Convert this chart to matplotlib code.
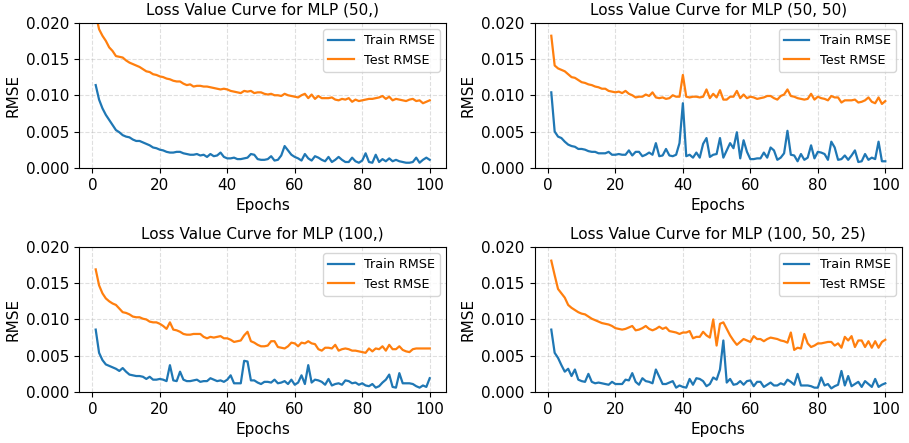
import numpy as np
import matplotlib
matplotlib.use("Agg")
import matplotlib.pyplot as plt

epochs = np.arange(1, 101)

# MLP (50,)
train_50 = [0.0114, 0.0094, 0.0082, 0.0073, 0.0066, 0.0059, 0.0052, 0.0049, 0.0045, 0.0043,
            0.0042, 0.0039, 0.0037, 0.0037, 0.0035, 0.0033, 0.0031, 0.0028, 0.0027, 0.0025,
            0.0024, 0.0022, 0.0021, 0.0021, 0.0022, 0.0022, 0.0020, 0.0019, 0.0018, 0.0018,
            0.0019, 0.0017, 0.0018, 0.0015, 0.0019, 0.0016, 0.0017, 0.0021, 0.0015, 0.0013,
            0.0013, 0.0014, 0.0012, 0.0012, 0.0013, 0.0014, 0.0019, 0.0018, 0.0012, 0.0011,
            0.0011, 0.0012, 0.0016, 0.0010, 0.0011, 0.0017, 0.0030, 0.0024, 0.0018, 0.0015,
            0.0013, 0.0010, 0.0019, 0.0013, 0.0010, 0.0016, 0.0014, 0.0011, 0.0009, 0.0015,
            0.0008, 0.0011, 0.0015, 0.0011, 0.0008, 0.0008, 0.0014, 0.0009, 0.0007, 0.0010,
            0.0020, 0.0008, 0.0007, 0.0018, 0.0008, 0.0012, 0.0009, 0.0013, 0.0009, 0.0011,
            0.0009, 0.0008, 0.0007, 0.0007, 0.0008, 0.0014, 0.0007, 0.0011, 0.0014, 0.0011]
test_50 = [0.0212, 0.0191, 0.0182, 0.0175, 0.0166, 0.0161, 0.0154, 0.0153, 0.0152, 0.0148,
           0.0145, 0.0143, 0.0141, 0.0139, 0.0136, 0.0133, 0.0132, 0.0129, 0.0128, 0.0126,
           0.0125, 0.0123, 0.0122, 0.0120, 0.0119, 0.0119, 0.0116, 0.0114, 0.0115, 0.0112,
           0.0113, 0.0113, 0.0112, 0.0112, 0.0111, 0.0110, 0.0109, 0.0108, 0.0109, 0.0108,
           0.0106, 0.0105, 0.0104, 0.0103, 0.0106, 0.0105, 0.0106, 0.0103, 0.0104, 0.0104,
           0.0102, 0.0101, 0.0102, 0.0100, 0.0100, 0.0099, 0.0102, 0.0100, 0.0099, 0.0098,
           0.0097, 0.0100, 0.0102, 0.0096, 0.0101, 0.0095, 0.0099, 0.0096, 0.0096, 0.0096,
           0.0097, 0.0094, 0.0093, 0.0095, 0.0094, 0.0096, 0.0091, 0.0094, 0.0092, 0.0093,
           0.0094, 0.0095, 0.0095, 0.0096, 0.0097, 0.0099, 0.0095, 0.0098, 0.0093, 0.0095,
           0.0094, 0.0093, 0.0092, 0.0094, 0.0095, 0.0092, 0.0093, 0.0089, 0.0091, 0.0093]

# MLP (50, 50)
train_50_50 = [0.0104, 0.0050, 0.0043, 0.0041, 0.0036, 0.0032, 0.0030, 0.0029, 0.0026, 0.0026,
               0.0025, 0.0023, 0.0022, 0.0022, 0.0020, 0.0020, 0.0020, 0.0022, 0.0018, 0.0018,
               0.0019, 0.0018, 0.0018, 0.0024, 0.0017, 0.0022, 0.0022, 0.0016, 0.0018, 0.0021,
               0.0018, 0.0034, 0.0016, 0.0017, 0.0026, 0.0017, 0.0016, 0.0018, 0.0034, 0.0089,
               0.0016, 0.0018, 0.0014, 0.0021, 0.0014, 0.0033, 0.0041, 0.0015, 0.0018, 0.0019,
               0.0041, 0.0014, 0.0024, 0.0034, 0.0027, 0.0049, 0.0013, 0.0038, 0.0022, 0.0012,
               0.0012, 0.0013, 0.0013, 0.0021, 0.0014, 0.0028, 0.0024, 0.0011, 0.0014, 0.0020,
               0.0051, 0.0018, 0.0017, 0.0009, 0.0019, 0.0011, 0.0014, 0.0031, 0.0013, 0.0022,
               0.0021, 0.0019, 0.0011, 0.0036, 0.0028, 0.0011, 0.0012, 0.0017, 0.0011, 0.0017,
               0.0024, 0.0008, 0.0009, 0.0019, 0.0011, 0.0014, 0.0012, 0.0036, 0.0009, 0.0009]
test_50_50 = [0.0182, 0.0141, 0.0137, 0.0135, 0.0133, 0.0129, 0.0125, 0.0124, 0.0121, 0.0118,
              0.0117, 0.0115, 0.0114, 0.0112, 0.0111, 0.0109, 0.0109, 0.0106, 0.0105, 0.0104,
              0.0105, 0.0103, 0.0106, 0.0102, 0.0100, 0.0097, 0.0098, 0.0098, 0.0101, 0.0099,
              0.0104, 0.0097, 0.0096, 0.0097, 0.0095, 0.0096, 0.0100, 0.0098, 0.0098, 0.0128,
              0.0098, 0.0097, 0.0098, 0.0098, 0.0097, 0.0098, 0.0108, 0.0096, 0.0102, 0.0097,
              0.0107, 0.0094, 0.0094, 0.0098, 0.0098, 0.0106, 0.0096, 0.0101, 0.0096, 0.0098,
              0.0097, 0.0095, 0.0096, 0.0097, 0.0099, 0.0099, 0.0096, 0.0094, 0.0099, 0.0101,
              0.0108, 0.0099, 0.0098, 0.0096, 0.0095, 0.0094, 0.0095, 0.0102, 0.0094, 0.0098,
              0.0096, 0.0095, 0.0093, 0.0099, 0.0097, 0.0097, 0.0090, 0.0093, 0.0093, 0.0093,
              0.0094, 0.0090, 0.0091, 0.0093, 0.0097, 0.0091, 0.0089, 0.0097, 0.0088, 0.0092]

# MLP (100,)
train_100 = [0.0086, 0.0054, 0.0044, 0.0038, 0.0036, 0.0034, 0.0032, 0.0029, 0.0033, 0.0028,
             0.0024, 0.0023, 0.0022, 0.0022, 0.0021, 0.0018, 0.0021, 0.0017, 0.0017, 0.0018,
             0.0017, 0.0015, 0.0037, 0.0016, 0.0015, 0.0028, 0.0017, 0.0015, 0.0015, 0.0016,
             0.0017, 0.0014, 0.0015, 0.0015, 0.0019, 0.0017, 0.0015, 0.0016, 0.0014, 0.0017,
             0.0023, 0.0012, 0.0012, 0.0012, 0.0043, 0.0042, 0.0016, 0.0016, 0.0013, 0.0011,
             0.0014, 0.0014, 0.0013, 0.0017, 0.0012, 0.0013, 0.0015, 0.0011, 0.0017, 0.0010,
             0.0013, 0.0023, 0.0011, 0.0037, 0.0013, 0.0017, 0.0016, 0.0014, 0.0010, 0.0018,
             0.0009, 0.0011, 0.0012, 0.0010, 0.0016, 0.0015, 0.0012, 0.0013, 0.0010, 0.0012,
             0.0009, 0.0008, 0.0011, 0.0006, 0.0008, 0.0013, 0.0017, 0.0024, 0.0007, 0.0006,
             0.0026, 0.0012, 0.0012, 0.0012, 0.0011, 0.0008, 0.0006, 0.0009, 0.0007, 0.0019]
test_100 = [0.0169, 0.0147, 0.0136, 0.0129, 0.0125, 0.0122, 0.0120, 0.0115, 0.0110, 0.0109,
            0.0107, 0.0104, 0.0103, 0.0103, 0.0101, 0.0100, 0.0097, 0.0096, 0.0096, 0.0094,
            0.0091, 0.0087, 0.0096, 0.0086, 0.0085, 0.0083, 0.0080, 0.0079, 0.0079, 0.0080,
            0.0080, 0.0080, 0.0076, 0.0074, 0.0076, 0.0075, 0.0076, 0.0077, 0.0074, 0.0074,
            0.0072, 0.0069, 0.0070, 0.0071, 0.0078, 0.0083, 0.0070, 0.0068, 0.0065, 0.0063,
            0.0063, 0.0064, 0.0070, 0.0070, 0.0062, 0.0061, 0.0060, 0.0063, 0.0068, 0.0067,
            0.0063, 0.0068, 0.0067, 0.0070, 0.0067, 0.0066, 0.0059, 0.0057, 0.0061, 0.0061,
            0.0060, 0.0065, 0.0057, 0.0059, 0.0060, 0.0059, 0.0057, 0.0057, 0.0056, 0.0055,
            0.0054, 0.0060, 0.0056, 0.0060, 0.0059, 0.0063, 0.0057, 0.0065, 0.0059, 0.0059,
            0.0063, 0.0058, 0.0056, 0.0055, 0.0059, 0.0060, 0.0060, 0.0060, 0.0060, 0.0060]

# MLP (100, 50, 25)
train_100_50_25 = [0.0086, 0.0054, 0.0047, 0.0037, 0.0028, 0.0032, 0.0022, 0.0031, 0.0017, 0.0015,
                   0.0014, 0.0025, 0.0014, 0.0012, 0.0013, 0.0012, 0.0011, 0.0010, 0.0014, 0.0011,
                   0.0011, 0.0011, 0.0017, 0.0016, 0.0026, 0.0014, 0.0010, 0.0019, 0.0015, 0.0014,
                   0.0012, 0.0031, 0.0021, 0.0011, 0.0011, 0.0013, 0.0015, 0.0006, 0.0009, 0.0007,
                   0.0006, 0.0018, 0.0010, 0.0019, 0.0018, 0.0015, 0.0008, 0.0011, 0.0020, 0.0017,
                   0.0031, 0.0071, 0.0013, 0.0018, 0.0010, 0.0011, 0.0015, 0.0010, 0.0015, 0.0016,
                   0.0008, 0.0014, 0.0014, 0.0007, 0.0010, 0.0013, 0.0009, 0.0009, 0.0012, 0.0010,
                   0.0017, 0.0014, 0.0010, 0.0025, 0.0009, 0.0009, 0.0009, 0.0008, 0.0006, 0.0006,
                   0.0020, 0.0009, 0.0011, 0.0005, 0.0008, 0.0010, 0.0029, 0.0009, 0.0022, 0.0008,
                   0.0011, 0.0014, 0.0007, 0.0015, 0.0011, 0.0007, 0.0018, 0.0007, 0.0010, 0.0012]
test_100_50_25 = [0.0181, 0.0161, 0.0142, 0.0136, 0.0130, 0.0120, 0.0116, 0.0113, 0.0110, 0.0108,
                  0.0107, 0.0104, 0.0101, 0.0099, 0.0097, 0.0095, 0.0094, 0.0093, 0.0091, 0.0088,
                  0.0087, 0.0086, 0.0087, 0.0089, 0.0091, 0.0085, 0.0086, 0.0088, 0.0091, 0.0087,
                  0.0085, 0.0087, 0.0090, 0.0087, 0.0089, 0.0084, 0.0083, 0.0082, 0.0080, 0.0082,
                  0.0082, 0.0084, 0.0074, 0.0076, 0.0076, 0.0083, 0.0078, 0.0075, 0.0100, 0.0064,
                  0.0094, 0.0096, 0.0087, 0.0078, 0.0071, 0.0065, 0.0069, 0.0073, 0.0071, 0.0069,
                  0.0077, 0.0073, 0.0073, 0.0070, 0.0073, 0.0075, 0.0074, 0.0073, 0.0071, 0.0070,
                  0.0068, 0.0082, 0.0058, 0.0061, 0.0060, 0.0080, 0.0067, 0.0062, 0.0064, 0.0067,
                  0.0067, 0.0068, 0.0069, 0.0069, 0.0064, 0.0067, 0.0061, 0.0076, 0.0071, 0.0077,
                  0.0062, 0.0071, 0.0071, 0.0062, 0.0070, 0.0061, 0.0070, 0.0061, 0.0069, 0.0072]

titles = ["Loss Value Curve for MLP (50,)", "Loss Value Curve for MLP (50, 50)",
          "Loss Value Curve for MLP (100,)", "Loss Value Curve for MLP (100, 50, 25)"]
train_curves = [train_50, train_50_50, train_100, train_100_50_25]
test_curves = [test_50, test_50_50, test_100, test_100_50_25]

plt.rcParams["font.size"] = 11

fig, axes = plt.subplots(2, 2, figsize=(9.09, 4.43), dpi=100)
fig.subplots_adjust(left=79/909, right=902/909, top=1-22.7/443, bottom=1-392/443,
                    wspace=0.24, hspace=0.545)

for ax, title, tr, te in zip(axes.flat, titles, train_curves, test_curves):
    ax.plot(epochs, tr, label="Train RMSE", lw=1.6)
    ax.plot(epochs, te, label="Test RMSE", lw=1.6)
    ax.set_ylim(0, 0.02)
    ax.set_title(title, fontsize=11)
    ax.set_xlabel("Epochs")
    ax.set_ylabel("RMSE")
    ax.grid(True, linestyle="--", alpha=0.4)
    ax.legend(loc="upper right", fontsize=9.2)

fig.savefig("out.png", dpi=100)
